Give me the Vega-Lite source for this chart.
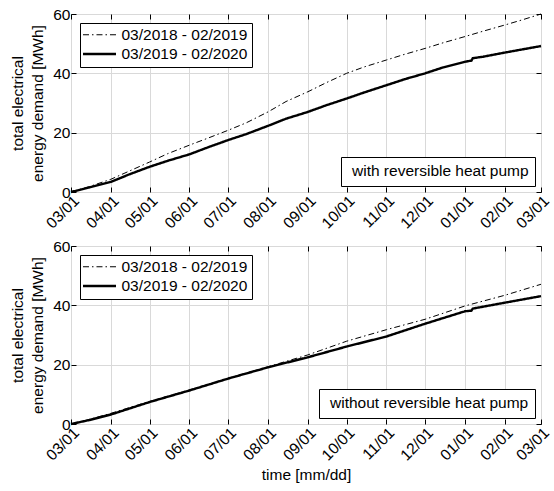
{
  "$schema": "https://vega.github.io/schema/vega-lite/v6.json",
  "padding": {"left": 10, "top": 6, "right": 5, "bottom": 5},
  "background": "white",
  "config": {
    "font": "Liberation Sans",
    "view": {"stroke": "black", "strokeWidth": 1},
    "mark": {"color": "black"},
    "axis": {
      "labelFont": "Liberation Sans", "labelFontSize": 15.5, "labelColor": "black",
      "titleFont": "Liberation Sans", "titleFontSize": 15.5, "titleFontWeight": "normal", "titleColor": "black",
      "gridColor": "#d9d9d9", "gridWidth": 1, "domain": false,
      "tickColor": "black", "tickSize": -5, "labelPadding": 6
    },
    "legend": {
      "labelFont": "Liberation Sans", "labelFontSize": 15.5, "labelColor": "black", "labelLimit": 400,
      "strokeColor": "black", "fillColor": "white"
    },
    "concat": {"spacing": 6}
  },
  "datasets": {
    "energy": [
      {"panel": "with", "series": "03/2018 - 02/2019", "date": "2018-03-01", "value": 0},
      {"panel": "with", "series": "03/2018 - 02/2019", "date": "2018-03-15", "value": 1.8},
      {"panel": "with", "series": "03/2018 - 02/2019", "date": "2018-04-01", "value": 4.3},
      {"panel": "with", "series": "03/2018 - 02/2019", "date": "2018-04-15", "value": 7.0},
      {"panel": "with", "series": "03/2018 - 02/2019", "date": "2018-05-01", "value": 10.1},
      {"panel": "with", "series": "03/2018 - 02/2019", "date": "2018-05-15", "value": 12.9},
      {"panel": "with", "series": "03/2018 - 02/2019", "date": "2018-06-01", "value": 15.8},
      {"panel": "with", "series": "03/2018 - 02/2019", "date": "2018-06-15", "value": 18.1},
      {"panel": "with", "series": "03/2018 - 02/2019", "date": "2018-07-01", "value": 20.8},
      {"panel": "with", "series": "03/2018 - 02/2019", "date": "2018-07-15", "value": 23.3},
      {"panel": "with", "series": "03/2018 - 02/2019", "date": "2018-08-01", "value": 27.0},
      {"panel": "with", "series": "03/2018 - 02/2019", "date": "2018-08-15", "value": 30.5},
      {"panel": "with", "series": "03/2018 - 02/2019", "date": "2018-09-01", "value": 33.8},
      {"panel": "with", "series": "03/2018 - 02/2019", "date": "2018-09-15", "value": 36.8},
      {"panel": "with", "series": "03/2018 - 02/2019", "date": "2018-10-01", "value": 40.0},
      {"panel": "with", "series": "03/2018 - 02/2019", "date": "2018-10-15", "value": 42.2},
      {"panel": "with", "series": "03/2018 - 02/2019", "date": "2018-11-01", "value": 44.5},
      {"panel": "with", "series": "03/2018 - 02/2019", "date": "2018-11-15", "value": 46.4},
      {"panel": "with", "series": "03/2018 - 02/2019", "date": "2018-12-01", "value": 48.4},
      {"panel": "with", "series": "03/2018 - 02/2019", "date": "2018-12-15", "value": 50.3},
      {"panel": "with", "series": "03/2018 - 02/2019", "date": "2019-01-01", "value": 52.4},
      {"panel": "with", "series": "03/2018 - 02/2019", "date": "2019-01-15", "value": 54.2},
      {"panel": "with", "series": "03/2018 - 02/2019", "date": "2019-02-01", "value": 56.3},
      {"panel": "with", "series": "03/2018 - 02/2019", "date": "2019-02-15", "value": 58.1},
      {"panel": "with", "series": "03/2018 - 02/2019", "date": "2019-03-01", "value": 60.0},
      {"panel": "with", "series": "03/2019 - 02/2020", "date": "2018-03-01", "value": 0},
      {"panel": "with", "series": "03/2019 - 02/2020", "date": "2018-03-15", "value": 1.5},
      {"panel": "with", "series": "03/2019 - 02/2020", "date": "2018-04-01", "value": 3.4},
      {"panel": "with", "series": "03/2019 - 02/2020", "date": "2018-04-15", "value": 5.9},
      {"panel": "with", "series": "03/2019 - 02/2020", "date": "2018-05-01", "value": 8.5},
      {"panel": "with", "series": "03/2019 - 02/2020", "date": "2018-05-15", "value": 10.5},
      {"panel": "with", "series": "03/2019 - 02/2020", "date": "2018-06-01", "value": 12.7},
      {"panel": "with", "series": "03/2019 - 02/2020", "date": "2018-06-15", "value": 15.0},
      {"panel": "with", "series": "03/2019 - 02/2020", "date": "2018-07-01", "value": 17.5},
      {"panel": "with", "series": "03/2019 - 02/2020", "date": "2018-07-15", "value": 19.5},
      {"panel": "with", "series": "03/2019 - 02/2020", "date": "2018-08-01", "value": 22.3},
      {"panel": "with", "series": "03/2019 - 02/2020", "date": "2018-08-15", "value": 24.7},
      {"panel": "with", "series": "03/2019 - 02/2020", "date": "2018-09-01", "value": 27.0},
      {"panel": "with", "series": "03/2019 - 02/2020", "date": "2018-09-15", "value": 29.2},
      {"panel": "with", "series": "03/2019 - 02/2020", "date": "2018-10-01", "value": 31.5},
      {"panel": "with", "series": "03/2019 - 02/2020", "date": "2018-10-15", "value": 33.6},
      {"panel": "with", "series": "03/2019 - 02/2020", "date": "2018-11-01", "value": 36.0},
      {"panel": "with", "series": "03/2019 - 02/2020", "date": "2018-11-15", "value": 38.0},
      {"panel": "with", "series": "03/2019 - 02/2020", "date": "2018-12-01", "value": 40.0},
      {"panel": "with", "series": "03/2019 - 02/2020", "date": "2018-12-15", "value": 42.0},
      {"panel": "with", "series": "03/2019 - 02/2020", "date": "2019-01-01", "value": 43.9},
      {"panel": "with", "series": "03/2019 - 02/2020", "date": "2019-01-06", "value": 44.3},
      {"panel": "with", "series": "03/2019 - 02/2020", "date": "2019-01-07", "value": 45.1},
      {"panel": "with", "series": "03/2019 - 02/2020", "date": "2019-01-15", "value": 45.6},
      {"panel": "with", "series": "03/2019 - 02/2020", "date": "2019-02-01", "value": 47.0},
      {"panel": "with", "series": "03/2019 - 02/2020", "date": "2019-02-15", "value": 48.1},
      {"panel": "with", "series": "03/2019 - 02/2020", "date": "2019-03-01", "value": 49.2},
      {"panel": "without", "series": "03/2018 - 02/2019", "date": "2018-03-01", "value": 0},
      {"panel": "without", "series": "03/2018 - 02/2019", "date": "2018-03-15", "value": 1.5},
      {"panel": "without", "series": "03/2018 - 02/2019", "date": "2018-04-01", "value": 3.6},
      {"panel": "without", "series": "03/2018 - 02/2019", "date": "2018-05-01", "value": 7.6},
      {"panel": "without", "series": "03/2018 - 02/2019", "date": "2018-06-01", "value": 11.5},
      {"panel": "without", "series": "03/2018 - 02/2019", "date": "2018-07-01", "value": 15.4},
      {"panel": "without", "series": "03/2018 - 02/2019", "date": "2018-08-01", "value": 19.3},
      {"panel": "without", "series": "03/2018 - 02/2019", "date": "2018-09-01", "value": 23.3},
      {"panel": "without", "series": "03/2018 - 02/2019", "date": "2018-10-01", "value": 27.9},
      {"panel": "without", "series": "03/2018 - 02/2019", "date": "2018-11-01", "value": 31.8},
      {"panel": "without", "series": "03/2018 - 02/2019", "date": "2018-12-01", "value": 35.3},
      {"panel": "without", "series": "03/2018 - 02/2019", "date": "2019-01-01", "value": 39.8},
      {"panel": "without", "series": "03/2018 - 02/2019", "date": "2019-02-01", "value": 43.4},
      {"panel": "without", "series": "03/2018 - 02/2019", "date": "2019-03-01", "value": 47.1},
      {"panel": "without", "series": "03/2019 - 02/2020", "date": "2018-03-01", "value": 0},
      {"panel": "without", "series": "03/2019 - 02/2020", "date": "2018-03-15", "value": 1.3},
      {"panel": "without", "series": "03/2019 - 02/2020", "date": "2018-04-01", "value": 3.2},
      {"panel": "without", "series": "03/2019 - 02/2020", "date": "2018-05-01", "value": 7.4},
      {"panel": "without", "series": "03/2019 - 02/2020", "date": "2018-06-01", "value": 11.3},
      {"panel": "without", "series": "03/2019 - 02/2020", "date": "2018-07-01", "value": 15.3},
      {"panel": "without", "series": "03/2019 - 02/2020", "date": "2018-08-01", "value": 19.1},
      {"panel": "without", "series": "03/2019 - 02/2020", "date": "2018-09-01", "value": 22.5},
      {"panel": "without", "series": "03/2019 - 02/2020", "date": "2018-10-01", "value": 26.1},
      {"panel": "without", "series": "03/2019 - 02/2020", "date": "2018-11-01", "value": 29.5},
      {"panel": "without", "series": "03/2019 - 02/2020", "date": "2018-12-01", "value": 33.8},
      {"panel": "without", "series": "03/2019 - 02/2020", "date": "2019-01-01", "value": 38.0},
      {"panel": "without", "series": "03/2019 - 02/2020", "date": "2019-01-06", "value": 38.2},
      {"panel": "without", "series": "03/2019 - 02/2020", "date": "2019-01-07", "value": 38.9},
      {"panel": "without", "series": "03/2019 - 02/2020", "date": "2019-02-01", "value": 40.9},
      {"panel": "without", "series": "03/2019 - 02/2020", "date": "2019-03-01", "value": 43.1}
    ]
  },
  "vconcat": [
    {
      "width": 470, "height": 178,
      "data": {"name": "energy"},
      "transform": [{"filter": "datum.panel == 'with'"}],
      "layer": [
        {
          "transform": [{"filter": "datum.series == '03/2018 - 02/2019'"}],
          "mark": {"type": "line", "strokeCap": "butt"},
          "encoding": {
            "x": {"field": "date", "type": "temporal",
                  "scale": {"type": "utc", "domain": [{"year": 2018, "month": 3, "date": 1, "utc": true}, {"year": 2019, "month": 3, "date": 1, "utc": true}]},
                  "axis": {"orient": "bottom", "format": "%m/%d", "tickCount": {"interval": "month", "step": 1}, "labelAngle": -45, "labelAlign": "right", "labelBaseline": "top", "labelOverlap": false, "labelFlush": false, "grid": true, "title": null}},
            "y": {"field": "value", "type": "quantitative", "scale": {"domain": [0, 60]},
                  "axis": {"values": [0, 20, 40, 60], "grid": true, "title": ["total electrical", "energy demand [MWh]"], "titleLineHeight": 20, "titlePadding": 7}},
            "strokeDash": {"field": "series", "type": "nominal", "scale": {"domain": ["03/2018 - 02/2019", "03/2019 - 02/2020"], "range": [[6, 3, 1.5, 3], [1, 0]]},
                  "legend": {"title": null, "orient": "top-left", "offset": 9, "padding": 4, "symbolType": "M-2.54,0H2.54", "symbolSize": 169, "symbolOffset": 7.5, "labelOffset": 14, "rowPadding": 2, "symbolStrokeColor": "black", "labelFont": "Liberation Sans", "labelFontSize": 15.5}},
            "strokeWidth": {"field": "series", "type": "nominal", "scale": {"domain": ["03/2018 - 02/2019", "03/2019 - 02/2020"], "range": [1, 2.4]},
                  "legend": {"title": null, "orient": "top-left", "offset": 9, "padding": 4, "symbolType": "M-2.54,0H2.54", "symbolSize": 169, "symbolOffset": 7.5, "labelOffset": 14, "rowPadding": 2, "symbolStrokeColor": "black", "labelFont": "Liberation Sans", "labelFontSize": 15.5}},
            "color": {"datum": "with reversible heat pump", "scale": {"range": ["black"]},
                  "legend": {"title": null, "orient": "bottom-right", "offset": 6, "padding": 6, "symbolSize": 0, "symbolStrokeWidth": 0, "symbolType": "circle", "labelOffset": -10.5, "labelLimit": 400}}
          }
        },
        {
          "transform": [{"filter": "datum.series == '03/2019 - 02/2020'"}],
          "mark": {"type": "line", "strokeCap": "butt"},
          "encoding": {
            "x": {"field": "date", "type": "temporal",
                  "scale": {"type": "utc", "domain": [{"year": 2018, "month": 3, "date": 1, "utc": true}, {"year": 2019, "month": 3, "date": 1, "utc": true}]},
                  "axis": {"orient": "top", "labels": false, "grid": false, "title": null, "tickCount": {"interval": "month", "step": 1}}},
            "y": {"field": "value", "type": "quantitative", "scale": {"domain": [0, 60]},
                  "axis": {"orient": "right", "labels": false, "grid": false, "title": null, "values": [0, 20, 40, 60]}},
            "strokeDash": {"field": "series", "type": "nominal", "scale": {"domain": ["03/2018 - 02/2019", "03/2019 - 02/2020"], "range": [[6, 3, 1.5, 3], [1, 0]]},
                  "legend": {"title": null, "orient": "top-left", "offset": 9, "padding": 4, "symbolType": "M-2.54,0H2.54", "symbolSize": 169, "symbolOffset": 7.5, "labelOffset": 14, "rowPadding": 2, "symbolStrokeColor": "black", "labelFont": "Liberation Sans", "labelFontSize": 15.5}},
            "strokeWidth": {"field": "series", "type": "nominal", "scale": {"domain": ["03/2018 - 02/2019", "03/2019 - 02/2020"], "range": [1, 2.4]},
                  "legend": {"title": null, "orient": "top-left", "offset": 9, "padding": 4, "symbolType": "M-2.54,0H2.54", "symbolSize": 169, "symbolOffset": 7.5, "labelOffset": 14, "rowPadding": 2, "symbolStrokeColor": "black", "labelFont": "Liberation Sans", "labelFontSize": 15.5}},
            "color": {"datum": "with reversible heat pump", "scale": {"range": ["black"]},
                  "legend": {"title": null, "orient": "bottom-right", "offset": 6, "padding": 6, "symbolSize": 0, "symbolStrokeWidth": 0, "symbolType": "circle", "labelOffset": -10.5, "labelLimit": 400}}
          }
        }
      ],
      "resolve": {"axis": {"x": "independent", "y": "independent"}}
    },
    {
      "width": 470, "height": 178,
      "data": {"name": "energy"},
      "transform": [{"filter": "datum.panel == 'without'"}],
      "layer": [
        {
          "transform": [{"filter": "datum.series == '03/2018 - 02/2019'"}],
          "mark": {"type": "line", "strokeCap": "butt"},
          "encoding": {
            "x": {"field": "date", "type": "temporal",
                  "scale": {"type": "utc", "domain": [{"year": 2018, "month": 3, "date": 1, "utc": true}, {"year": 2019, "month": 3, "date": 1, "utc": true}]},
                  "axis": {"orient": "bottom", "format": "%m/%d", "tickCount": {"interval": "month", "step": 1}, "labelAngle": -45, "labelAlign": "right", "labelBaseline": "top", "labelOverlap": false, "labelFlush": false, "grid": true, "title": "time [mm/dd]", "titlePadding": 4}},
            "y": {"field": "value", "type": "quantitative", "scale": {"domain": [0, 60]},
                  "axis": {"values": [0, 20, 40, 60], "grid": true, "title": ["total electrical", "energy demand [MWh]"], "titleLineHeight": 20, "titlePadding": 7}},
            "strokeDash": {"field": "series", "type": "nominal", "scale": {"domain": ["03/2018 - 02/2019", "03/2019 - 02/2020"], "range": [[6, 3, 1.5, 3], [1, 0]]},
                  "legend": {"title": null, "orient": "top-left", "offset": 9, "padding": 4, "symbolType": "M-2.54,0H2.54", "symbolSize": 169, "symbolOffset": 7.5, "labelOffset": 14, "rowPadding": 2, "symbolStrokeColor": "black", "labelFont": "Liberation Sans", "labelFontSize": 15.5}},
            "strokeWidth": {"field": "series", "type": "nominal", "scale": {"domain": ["03/2018 - 02/2019", "03/2019 - 02/2020"], "range": [1, 2.4]},
                  "legend": {"title": null, "orient": "top-left", "offset": 9, "padding": 4, "symbolType": "M-2.54,0H2.54", "symbolSize": 169, "symbolOffset": 7.5, "labelOffset": 14, "rowPadding": 2, "symbolStrokeColor": "black", "labelFont": "Liberation Sans", "labelFontSize": 15.5}},
            "color": {"datum": "without reversible heat pump", "scale": {"range": ["black"]},
                  "legend": {"title": null, "orient": "bottom-right", "offset": 6, "padding": 6, "symbolSize": 0, "symbolStrokeWidth": 0, "symbolType": "circle", "labelOffset": -10.5, "labelLimit": 400}}
          }
        },
        {
          "transform": [{"filter": "datum.series == '03/2019 - 02/2020'"}],
          "mark": {"type": "line", "strokeCap": "butt"},
          "encoding": {
            "x": {"field": "date", "type": "temporal",
                  "scale": {"type": "utc", "domain": [{"year": 2018, "month": 3, "date": 1, "utc": true}, {"year": 2019, "month": 3, "date": 1, "utc": true}]},
                  "axis": {"orient": "top", "labels": false, "grid": false, "title": null, "tickCount": {"interval": "month", "step": 1}}},
            "y": {"field": "value", "type": "quantitative", "scale": {"domain": [0, 60]},
                  "axis": {"orient": "right", "labels": false, "grid": false, "title": null, "values": [0, 20, 40, 60]}},
            "strokeDash": {"field": "series", "type": "nominal", "scale": {"domain": ["03/2018 - 02/2019", "03/2019 - 02/2020"], "range": [[6, 3, 1.5, 3], [1, 0]]},
                  "legend": {"title": null, "orient": "top-left", "offset": 9, "padding": 4, "symbolType": "M-2.54,0H2.54", "symbolSize": 169, "symbolOffset": 7.5, "labelOffset": 14, "rowPadding": 2, "symbolStrokeColor": "black", "labelFont": "Liberation Sans", "labelFontSize": 15.5}},
            "strokeWidth": {"field": "series", "type": "nominal", "scale": {"domain": ["03/2018 - 02/2019", "03/2019 - 02/2020"], "range": [1, 2.4]},
                  "legend": {"title": null, "orient": "top-left", "offset": 9, "padding": 4, "symbolType": "M-2.54,0H2.54", "symbolSize": 169, "symbolOffset": 7.5, "labelOffset": 14, "rowPadding": 2, "symbolStrokeColor": "black", "labelFont": "Liberation Sans", "labelFontSize": 15.5}},
            "color": {"datum": "without reversible heat pump", "scale": {"range": ["black"]},
                  "legend": {"title": null, "orient": "bottom-right", "offset": 6, "padding": 6, "symbolSize": 0, "symbolStrokeWidth": 0, "symbolType": "circle", "labelOffset": -10.5, "labelLimit": 400}}
          }
        }
      ],
      "resolve": {"axis": {"x": "independent", "y": "independent"}}
    }
  ],
  "resolve": {
    "scale": {"color": "independent"},
    "legend": {"color": "independent", "strokeDash": "independent", "strokeWidth": "independent"}
  }
}
